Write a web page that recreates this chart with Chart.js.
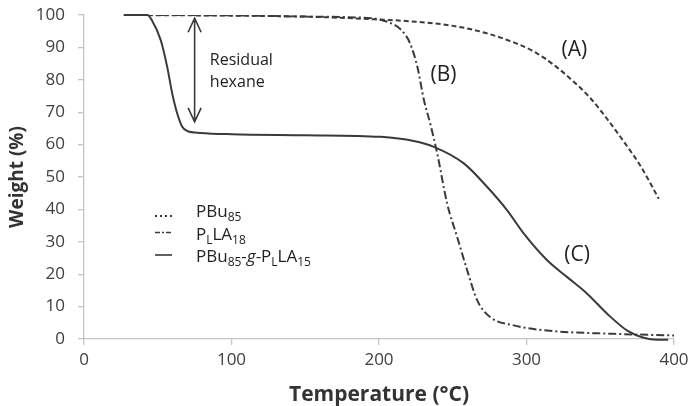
<!DOCTYPE html>
<html>
<head>
<meta charset="utf-8">
<script src="https://cdn.jsdelivr.net/npm/chart.js@4/dist/chart.umd.min.js"></script>
<style>
  html, body { margin: 0; padding: 0; background: #fff; }
</style>
</head>
<body>
<canvas id="tga" width="690" height="406"></canvas>
<script>
// (A) PBu85 - dashed
const tempA = [27, 100, 150, 200, 220, 241.7, 264.3, 286.9, 305, 318.5, 332, 343.4, 354.7, 366, 377.3, 389.7];
const weightA = [100, 99.8, 99.5, 98.6, 98.1, 97.2, 95.4, 92.3, 88.7, 84.6, 79.4, 74.3, 67.9, 60.9, 53.4, 43.3];

// (B) PLLA18 - dash dot
const tempB = [27, 100, 150, 195, 205, 215, 221, 226, 230.5, 235, 239.5, 246.2, 253, 259.8, 266.6, 275.6, 291.4, 314, 359, 400];
const weightB = [100, 99.9, 99.5, 99, 98, 95.4, 91.3, 84, 73.7, 66, 57.2, 41.8, 31.5, 21.2, 11.9, 6.7, 4.2, 2.6, 1.6, 1.1];

// (C) PBu85-g-PLLA15 - solid
const tempC = [27, 43, 46, 52, 56.4, 59.8, 63.2, 66.6, 70, 79, 100, 150, 201, 223.6, 237.2, 257.5, 273.4, 286.9, 298.2, 314, 327.6, 341.1, 354.7, 368.3, 379.5, 388.6, 396];
const weightC = [100, 100, 98.4, 92.3, 84, 75.8, 69.6, 65.5, 64.2, 63.6, 63.2, 62.9, 62.4, 61.1, 59.3, 54.2, 46.9, 39.7, 32.5, 24.3, 19.1, 14, 7.8, 2.6, 0.4, -0.2, -0.2];

const curveTags = ['(A)', '(B)', '(C)'];
const tagX = [332.5, 243.7, 334.3];
const tagY = [89.2, 81.5, 25.8];

const xTicks = [0, 100, 200, 300, 400];
const yTicks = [0, 10, 20, 30, 40, 50, 60, 70, 80, 90, 100];

const lineCol = '#3a3a3a';
const axisCol = '#c4c4c4';
const FONT = '"Open Sans", "DejaVu Sans", sans-serif';

function pts(xs, ys) {
  return xs.map((x, i) => ({ x: x, y: ys[i] }));
}

// text with subscripts / italic parts
function drawRich(c, parts, x, y) {
  let cx = x;
  parts.forEach(([t, kind]) => {
    let dy = 0;
    if (kind === 'sub') { c.font = '12px ' + FONT; dy = 4; }
    else if (kind === 'it') { c.font = 'italic 17px ' + FONT; }
    else { c.font = '17px ' + FONT; }
    c.fillText(t, cx, y + dy);
    cx += c.measureText(t).width;
  });
}

const legendRows = [
  { dash: [2, 3], parts: [['PBu'], ['85', 'sub']] },
  { dash: [5, 2, 2, 2], parts: [['P'], ['L', 'sub'], ['LA'], ['18', 'sub']] },
  { dash: [], parts: [['PBu'], ['85', 'sub'], ['-'], ['g', 'it'], ['-P'], ['L', 'sub'], ['LA'], ['15', 'sub']] }
];

const extras = {
  id: 'extras',
  afterDatasetsDraw(chart) {
    const c = chart.ctx;
    const xs = chart.scales.x, ys = chart.scales.y;
    const area = chart.chartArea;
    c.save();
    c.fillStyle = '#222';
    c.strokeStyle = lineCol;

    // curve tags
    c.font = '21px ' + FONT;
    c.textAlign = 'center';
    c.textBaseline = 'middle';
    curveTags.forEach((t, i) => {
      c.fillText(t, xs.getPixelForValue(tagX[i]), ys.getPixelForValue(tagY[i]));
    });

    // double arrow
    const ax = xs.getPixelForValue(75);
    const y1 = ys.getPixelForValue(99);
    const y2 = ys.getPixelForValue(67);
    c.lineWidth = 1.6;
    c.beginPath();
    c.moveTo(ax, y1); c.lineTo(ax, y2);
    c.moveTo(ax - 6.5, y1 + 14); c.lineTo(ax, y1); c.lineTo(ax + 6.5, y1 + 14);
    c.moveTo(ax - 6.5, y2 - 14); c.lineTo(ax, y2); c.lineTo(ax + 6.5, y2 - 14);
    c.stroke();

    c.textAlign = 'left';
    c.textBaseline = 'alphabetic';
    c.font = '16px ' + FONT;
    c.fillText('Residual', xs.getPixelForValue(85.3), ys.getPixelForValue(84.6));
    c.fillText('hexane', xs.getPixelForValue(85.3), ys.getPixelForValue(77.8));

    // legend
    const lx = area.left + 71;
    legendRows.forEach((row, i) => {
      const base = 217 + i * 22.5;
      const sy = i === 0 ? base - 1 : base - 7;
      c.lineWidth = i === 0 ? 2 : 1.6;
      c.setLineDash(row.dash);
      c.beginPath();
      c.moveTo(lx, sy); c.lineTo(lx + 17, sy);
      c.stroke();
      c.setLineDash([]);
      drawRich(c, row.parts, area.left + 112, base);
    });
    c.restore();
  }
};

new Chart(document.getElementById('tga'), {
  type: 'line',
  data: {
    datasets: [
      {
        label: 'PBu85',
        data: pts(tempA, weightA),
        borderColor: lineCol,
        borderWidth: 2,
        borderDash: [5, 3],
        pointRadius: 0,
        cubicInterpolationMode: 'monotone'
      },
      {
        label: 'PLLA18',
        data: pts(tempB, weightB),
        borderColor: lineCol,
        borderWidth: 2,
        borderDash: [8, 3, 2, 3],
        pointRadius: 0,
        cubicInterpolationMode: 'monotone'
      },
      {
        label: 'PBu85-g-PLLA15',
        data: pts(tempC, weightC),
        borderColor: lineCol,
        borderWidth: 2,
        pointRadius: 0,
        cubicInterpolationMode: 'monotone',
        clip: false
      }
    ]
  },
  options: {
    responsive: false,
    animation: false,
    layout: { padding: { top: 15, right: 16, left: 0, bottom: 0 } },
    scales: {
      x: {
        type: 'linear',
        min: 0,
        max: 400,
        afterFit: (s) => { s.height = 67; s.paddingLeft = 0; s.paddingRight = 0; },
        afterBuildTicks: (s) => { s.ticks = xTicks.map(v => ({ value: v })); },
        border: { display: true, color: axisCol, width: 1.3 },
        grid: { display: true, drawOnChartArea: false, drawTicks: true, tickLength: 6, color: axisCol, lineWidth: 1.3 },
        ticks: { color: '#404040', padding: 5, font: { family: FONT, size: 17 }, maxRotation: 0 },
        title: { display: true, text: 'Temperature (°C)', color: '#333', font: { family: FONT, size: 21, weight: 'bold', lineHeight: 1 }, padding: { top: 4, bottom: 0.5 } }
      },
      y: {
        min: 0,
        max: 100,
        afterFit: (s) => { s.width = 84; s.paddingTop = 0; s.paddingBottom = 0; },
        afterBuildTicks: (s) => { s.ticks = yTicks.map(v => ({ value: v })); },
        border: { display: true, color: axisCol, width: 1.3 },
        grid: { display: true, drawOnChartArea: false, drawTicks: true, tickLength: 6, color: axisCol, lineWidth: 1.3 },
        ticks: { color: '#404040', padding: 13, font: { family: FONT, size: 17 } },
        title: { display: true, text: 'Weight (%)', color: '#333', font: { family: FONT, size: 19, weight: 'bold' }, padding: { top: 6, bottom: 4 } }
      }
    },
    plugins: {
      legend: { display: false },
      tooltip: { enabled: false }
    }
  },
  plugins: [extras]
});
</script>
</body>
</html>
